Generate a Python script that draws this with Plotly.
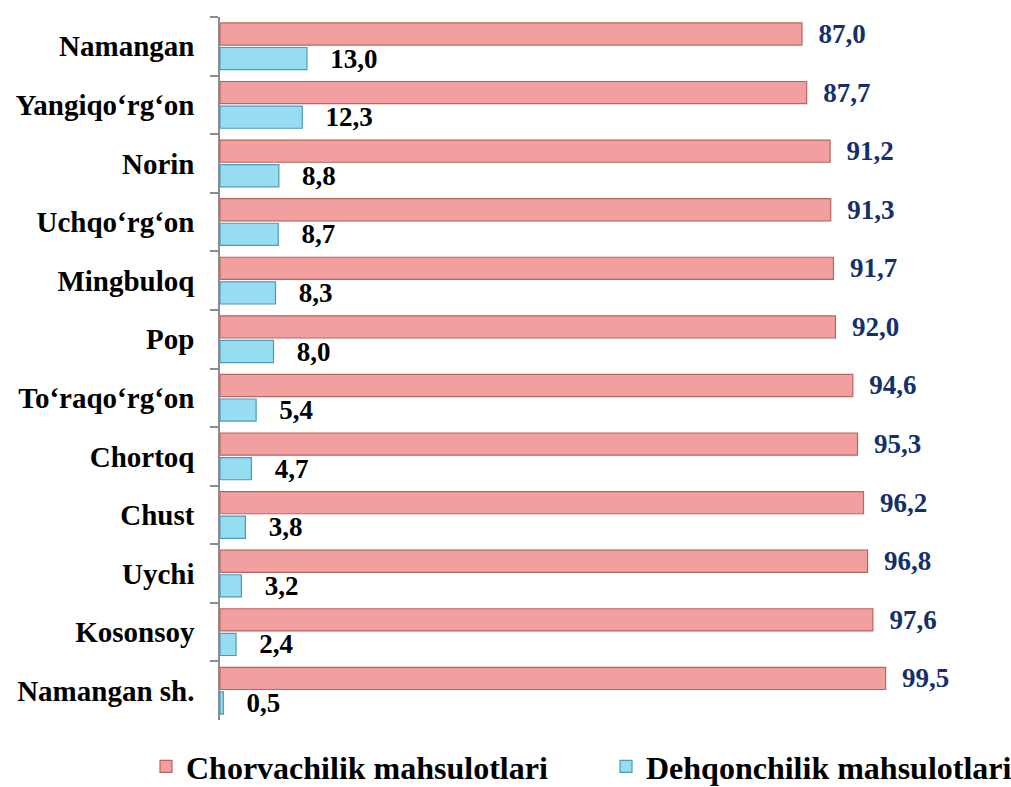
import plotly.graph_objects as go

categories = ["Namangan", "Yangiqo‘rg‘on", "Norin", "Uchqo‘rg‘on", "Mingbuloq", "Pop",
              "To‘raqo‘rg‘on", "Chortoq", "Chust", "Uychi", "Kosonsoy", "Namangan sh."]
chorva = [87.0, 87.7, 91.2, 91.3, 91.7, 92.0, 94.6, 95.3, 96.2, 96.8, 97.6, 99.5]
dehqon = [13.0, 12.3, 8.8, 8.7, 8.3, 8.0, 5.4, 4.7, 3.8, 3.2, 2.4, 0.5]
series_names = ["Chorvachilik mahsulotlari", "Dehqonchilik mahsulotlari"]

def fmt(v, pad):
    return "\u00a0" * pad + f"{v:.1f}".replace(".", ",")

FONT = "Liberation Serif, Times New Roman, serif"

fig = go.Figure()
fig.add_trace(go.Bar(
    y=categories, x=chorva, orientation="h", name=series_names[0], legend="legend",
    marker=dict(color="#F2A09F", line=dict(color="#B86462", width=1.2)),
    text=[fmt(v, 2) for v in chorva], textposition="outside", constraintext="none",
    textfont=dict(family=FONT, size=27, color="#14306B", weight="bold"),
    cliponaxis=False,
))
fig.add_trace(go.Bar(
    y=categories, x=dehqon, orientation="h", name=series_names[1], legend="legend2",
    marker=dict(color="#96DDF2", line=dict(color="#4E9AB4", width=1.2)),
    text=[fmt(v, 3) for v in dehqon], textposition="outside", constraintext="none",
    textfont=dict(family=FONT, size=27, color="#000000", weight="bold"),
    cliponaxis=False,
))

legfont = dict(family=FONT, size=32, color="#000000", weight="bold")
fig.update_layout(
    width=1011, height=787,
    paper_bgcolor="white", plot_bgcolor="white",
    barmode="group", bargap=0.16, bargroupgap=0.1,
    margin=dict(l=220, r=11, t=17, b=67, autoexpand=False),
    font=dict(family=FONT, size=26, color="#000000", weight="bold"),
    showlegend=True,
    legend=dict(x=146 / 1011, xref="container", xanchor="left",
                y=0.026, yref="container", yanchor="middle",
                font=legfont, itemwidth=30, bgcolor="rgba(0,0,0,0)"),
    legend2=dict(x=606 / 1011, xref="container", xanchor="left",
                 y=0.026, yref="container", yanchor="middle",
                 font=legfont, itemwidth=30, bgcolor="rgba(0,0,0,0)"),
)
fig.update_xaxes(range=[0, 116.6], visible=False, showgrid=False, zeroline=False,
                 automargin=False)
fig.update_yaxes(autorange="reversed", showline=True, linecolor="#8C8C8C", linewidth=1.5,
                 ticks="outside", tickson="boundaries", ticklen=8, tickcolor="#8C8C8C",
                 tickwidth=1.5, showgrid=False, ticklabelstandoff=18, automargin=False,
                 tickfont=dict(family=FONT, size=29, color="#000000", weight="bold"))

fig.write_html("out.html", config={"displayModeBar": False},
               post_script="document.body.style.margin='0';document.body.style.overflow='hidden';")
